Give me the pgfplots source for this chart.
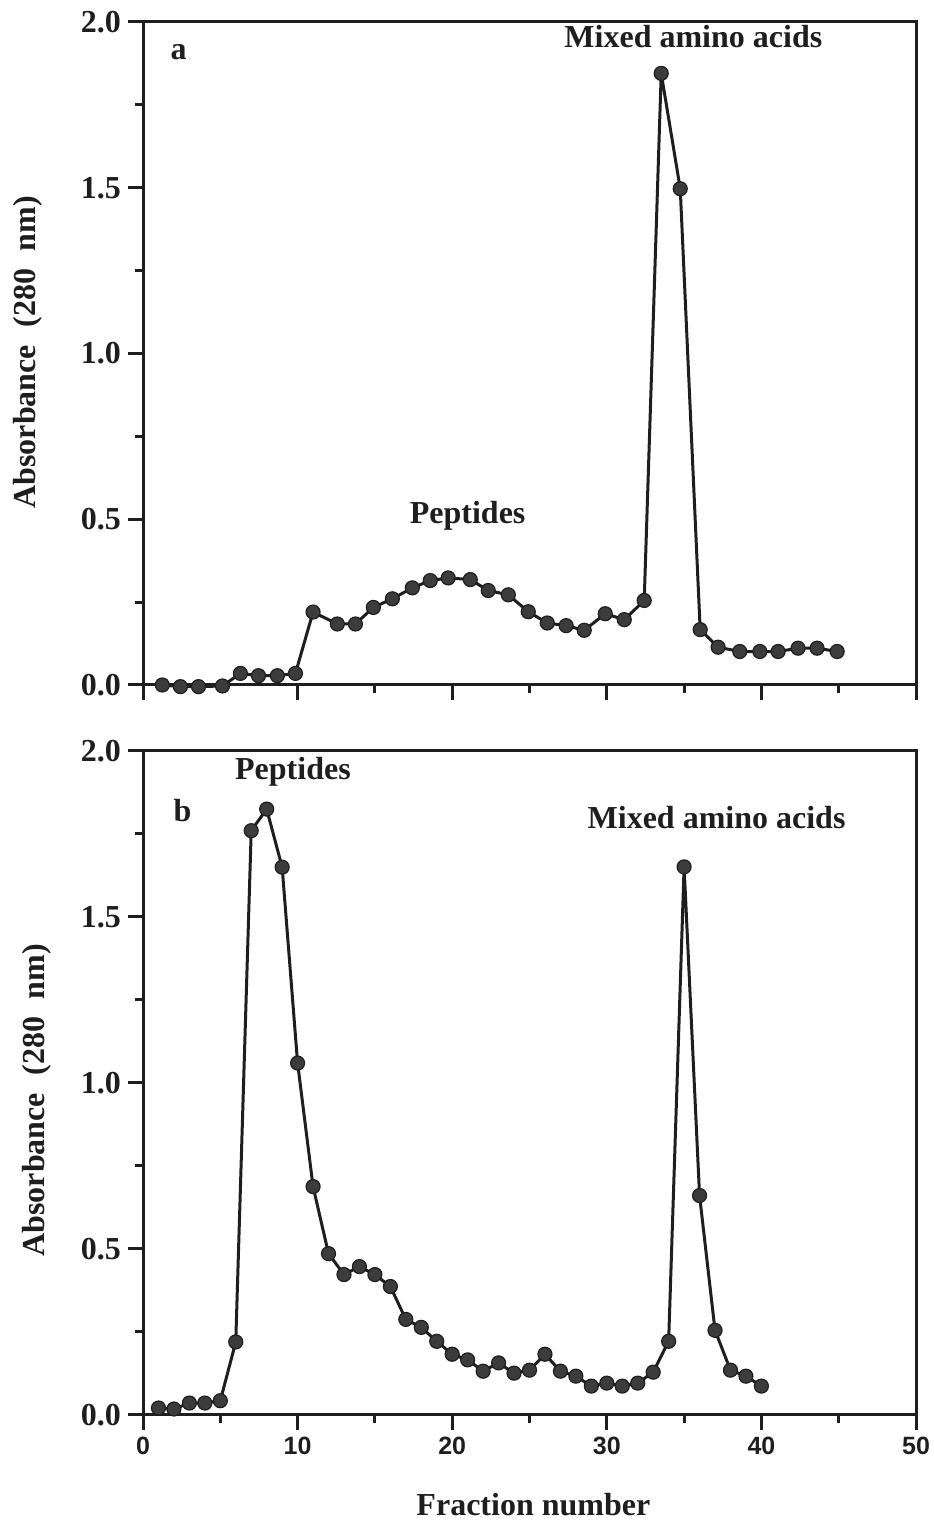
\documentclass[border=0pt]{standalone}
\usepackage{fontspec}
\setmainfont{Liberation Serif}
\newfontfamily\labelsans{Liberation Sans}
\usepackage{pgfplots}
\pgfplotsset{compat=1.18}
\definecolor{ink}{HTML}{1E1E1E}
\definecolor{dotfill}{HTML}{3C3C3C}
\pgfplotsset{
  panel/.style={
    scale only axis, width=386.5pt,
    xmin=0,xmax=50,ymin=0,ymax=2,
    axis line style={line width=1.5pt, draw=ink},
    tick align=outside, xtick pos=bottom, ytick pos=left,
    xtick={0,10,20,30,40,50}, minor xtick={5,15,25,35,45},
    ytick={0,0.5,1,1.5,2}, minor ytick={0.25,0.75,1.25,1.75},
    yticklabels={0.0,0.5,1.0,1.5,2.0},
    major tick length=7.5pt, minor tick length=4pt,
    tick style={line width=1.5pt, draw=ink},
    yticklabel style={font=\fontsize{16}{16}\selectfont\bfseries, text=ink},
    xticklabel style={font=\labelsans\fontsize{12.5}{12.5}\selectfont\bfseries, text=ink},
    ylabel={Absorbance\hspace{0.55em}(280\hspace{0.55em}nm)},
    ylabel style={font=\fontsize{16}{16}\selectfont\bfseries, text=ink, anchor=center},
    clip=false,
  },
  series/.style={draw=ink, line width=1.5pt, mark=*, mark size=3.5pt,
    mark options={fill=dotfill, draw=ink, line width=0.6pt, solid}},
}
\begin{document}
\begin{tikzpicture}
\path[use as bounding box] (0,0) rectangle (466.5pt,762.5pt);
\begin{axis}[panel, height=331.5pt, at={(71.5pt,420pt)}, anchor=south west,
  xticklabels={},
  ylabel style={at={(axis description cs:-0.149,0.502)}}]
\addplot[series] coordinates {
(1.25,0.000) (2.42,-0.005) (3.59,-0.005) (5.14,-0.003) (6.30,0.035) (7.47,0.028)
(8.69,0.028) (9.86,0.035) (11.00,0.220) (12.57,0.184) (13.74,0.184) (14.90,0.234)
(16.13,0.260) (17.42,0.293) (18.58,0.315) (19.74,0.323) (21.17,0.318) (22.33,0.285)
(23.63,0.272) (24.92,0.221) (26.15,0.187) (27.37,0.179) (28.54,0.165) (29.90,0.215)
(31.13,0.197) (32.42,0.255) (33.52,1.845) (34.75,1.497) (36.04,0.167) (37.20,0.114)
(38.60,0.101) (39.90,0.101) (41.08,0.101) (42.37,0.111) (43.60,0.111) (44.90,0.101)
};
\node[font=\fontsize{16}{16}\selectfont\bfseries, text=ink] at (axis cs:2.3,1.91) {a};
\node[font=\fontsize{16}{16}\selectfont\bfseries, text=ink] at (axis cs:35.6,1.955) {Mixed amino acids};
\node[font=\fontsize{16}{16}\selectfont\bfseries, text=ink] at (axis cs:21.0,0.51) {Peptides};
\end{axis}
\begin{axis}[panel, height=332pt, at={(71.5pt,55pt)}, anchor=south west,
  xticklabels={0,10,20,30,40,50},
  ylabel style={at={(axis description cs:-0.137,0.474)}},
  xlabel={Fraction number},
  xlabel style={at={(axis description cs:0.505,-0.1355)}, anchor=center,
    font=\fontsize{16}{16}\selectfont\bfseries, text=ink}]
\addplot[series] coordinates {
(1,0.021) (2,0.018) (3,0.036) (4,0.036) (5,0.043) (6,0.220) (7,1.760) (8,1.825)
(9,1.650) (10,1.060) (11,0.688) (12,0.486) (13,0.423) (14,0.447) (15,0.423)
(16,0.387) (17,0.288) (18,0.264) (19,0.222) (20,0.183) (21,0.166) (22,0.132)
(23,0.157) (24,0.126) (25,0.135) (26,0.183) (27,0.132) (28,0.117) (29,0.087)
(30,0.096) (31,0.087) (32,0.096) (33,0.129) (34,0.222) (35,1.651) (36,0.661)
(37,0.255) (38,0.135) (39,0.117) (40,0.087)
};
\node[font=\fontsize{16}{16}\selectfont\bfseries, text=ink] at (axis cs:9.7,1.937) {Peptides};
\node[font=\fontsize{16}{16}\selectfont\bfseries, text=ink] at (axis cs:2.55,1.82) {b};
\node[font=\fontsize{16}{16}\selectfont\bfseries, text=ink] at (axis cs:37.1,1.80) {Mixed amino acids};
\end{axis}
\end{tikzpicture}
\end{document}
